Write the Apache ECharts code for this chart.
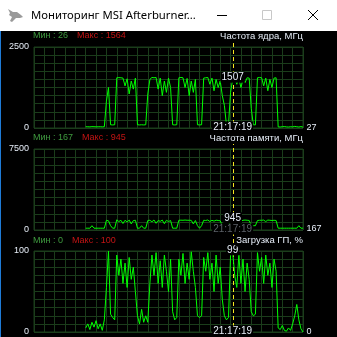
<!DOCTYPE html>
<html><head><meta charset="utf-8">
<script src="https://cdn.jsdelivr.net/npm/echarts@6/dist/echarts.min.js"></script>
<style>html,body{margin:0;padding:0;background:#000;overflow:hidden}#c{width:337px;height:337px}</style>
</head><body><div id="c"></div>
<script>
// ---- data ----
const windowTitle = 'Мониторинг MSI Afterburner...';
const panelTitles = ['Частота ядра, МГц', 'Частота памяти, МГц', 'Загрузка ГП, %'];
const minValues = [26, 167, 0];
const maxValues = [1564, 945, 100];
const axisMax = [2500, 7500, 100];
const sampleSlots = 130;      // history width in samples
const sampleStart = 25;       // first recorded sample slot
const cursorSample = 71;      // index in the data arrays under the cursor
const cursorTime = '21:17:19';

const coreClock = [
  40,38,35,42,40,36,38,40,35,40,
  830,1250,100,95,100,
  1550,1555,1550,1540,
  1300,1520,1050,1450,1200,
  1540,
  100,95,100,95,100,
  1050,1500,1560,1550,1560,
  1200,1540,1000,1450,1100,1540,1250,
  100,95,100,
  1550,1560,1550,
  1250,1530,1000,1450,1100,1500,
  100,95,100,
  1540,1550,1560,
  1350,1540,1150,1500,1250,1450,
  1000,700,100,110,
  1100,1507,1550,
  1350,1540,1250,1500,1400,1550,
  1540,
  600,100,95,
  1550,1560,1550,
  1300,1540,1150,1500,1250,1540,
  1550,
  35,30,40,45,35,30,40,35,50,40,30,45,27
];
const memClock = [
  167,167,167,400,167,167,167,167,167,167,
  900,850,400,167,167,
  945,780,900,600,900,750,920,560,870,900,
  167,167,400,167,167,
  880,900,760,930,620,880,800,920,580,900,780,880,
  167,167,167,
  900,910,900,920,900,900,890,560,880,
  400,167,400,
  900,880,930,780,900,820,910,880,850,
  400,400,167,400,
  880,945,900,
  910,900,820,900,920,900,880,
  400,400,400,
  880,900,900,920,780,920,900,880,900,880,
  167,167,167,167,167,167,167,167,167,167,400,167,167
];
const gpuLoad = [
  5,10,3,12,6,14,4,10,2,15,
  55,100,22,18,15,
  95,70,90,60,85,55,92,65,80,
  50,
  20,10,28,12,20,
  12,60,95,
  70,98,60,88,55,95,75,50,90,
  25,15,18,
  90,70,97,60,85,65,99,75,55,
  20,18,20,
  92,75,98,65,85,50,95,60,80,
  40,20,15,18,
  95,99,70,
  55,95,60,90,50,85,65,
  25,20,22,
  98,75,92,60,95,70,85,55,90,75,
  5,3,8,2,1,5,2,10,20,34,15,4,0
];

// ---- styling ----
const FONT = 'Liberation Sans';
const GRIDC = '#1b3d1b';
const LINE = '#00ff00';
const TXT = '#e6edf7';
const GREEN_T = '#3f9a3f';
const RED_T = '#c41414';
const timeColors = [TXT, '#5c6168', TXT];
const gridTops = [47, 149, 251];
const statY = [36, 138, 240.5];

const chart = echarts.init(document.getElementById('c'));
const panels = [coreClock, memClock, gpuLoad];
const grids = [], xAxes = [], yAxes = [], series = [];
panels.forEach((arr, k) => {
  const m = axisMax[k];
  grids.push({left: 34, width: 269, top: gridTops[k], height: 81, show: true,
    borderColor: GRIDC, borderWidth: 1, backgroundColor: 'transparent'});
  xAxes.push({type: 'value', gridIndex: k, min: 0, max: sampleSlots, interval: 5,
    axisLabel: {show: false}, axisTick: {show: false}, axisLine: {show: false},
    splitLine: {show: true, lineStyle: {color: GRIDC, width: 1}}});
  yAxes.push({type: 'value', gridIndex: k, min: 0, max: m, interval: m / 10,
    axisTick: {show: false}, axisLine: {show: false},
    splitLine: {show: true, lineStyle: {color: GRIDC, width: 1}},
    axisLabel: {color: TXT, fontSize: 9, fontFamily: FONT, margin: 5,
      formatter: v => (v === 0 || v === m) ? String(v) : ''}});
  const last = arr.length - 1;
  series.push({type: 'line', xAxisIndex: k, yAxisIndex: k,
    data: arr.map((v, i) => [sampleStart + i, v]),
    showSymbol: false, symbol: 'none', silent: true, animation: false,
    lineStyle: {color: LINE, width: 1},
    markPoint: {symbol: 'rect', symbolSize: 1, silent: true, animation: false,
      itemStyle: {color: 'rgba(0,0,0,0)'},
      data: [
        {coord: [sampleStart + cursorSample, arr[cursorSample]],
          label: {show: true, position: 'inside', offset: [0, -2], formatter: String(arr[cursorSample]),
            color: TXT, fontSize: 10, fontFamily: FONT, backgroundColor: '#000', padding: [1, 1, 0, 1]}},
        {coord: [sampleStart + cursorSample, 0],
          label: {show: true, position: 'inside', offset: [0, -1], formatter: cursorTime,
            color: timeColors[k], fontSize: 10, fontFamily: FONT, backgroundColor: '#000', padding: [1, 1, 0, 1]}},
        {coord: [sampleStart + last, arr[last]],
          label: {show: true, position: 'right', distance: 3, formatter: String(arr[last]),
            color: TXT, fontSize: 9, fontFamily: FONT}}
      ]}});
});

chart.setOption({
  backgroundColor: '#000',
  animation: false,
  grid: grids, xAxis: xAxes, yAxis: yAxes, series: series
});

// ---- window chrome and texts ----
const mctx = document.createElement('canvas').getContext('2d');
mctx.font = '9px "' + FONT + '"';
const els = [];
els.push({type: 'rect', shape: {x: 0, y: 0, width: 337, height: 31}, style: {fill: '#fff'}, z: 20});
els.push({type: 'rect', shape: {x: 0, y: 31, width: 1, height: 306}, style: {fill: '#1f7bd6'}, z: 20});
els.push({type: 'polygon', shape: {points: [[8,9],[13,12],[17,12],[21,15],[23,17],[20,18],[16,18],[12,22],[10,21],[12,17],[9,15],[10,13]]},
  style: {fill: '#9a9a9a'}, z: 21});
els.push({type: 'text', x: 31, y: 15.5, z: 21, style: {text: windowTitle, fill: '#000',
  font: '11.3px "Noto Sans"', textVerticalAlign: 'middle'}});
els.push({type: 'line', shape: {x1: 217, y1: 15.5, x2: 227, y2: 15.5}, style: {stroke: '#000', lineWidth: 1}, z: 21});
els.push({type: 'rect', shape: {x: 262.5, y: 10.5, width: 9, height: 9}, style: {fill: 'none', stroke: '#c8c8c8', lineWidth: 1}, z: 21});
els.push({type: 'line', shape: {x1: 308, y1: 10, x2: 318, y2: 20}, style: {stroke: '#000', lineWidth: 1}, z: 21});
els.push({type: 'line', shape: {x1: 318, y1: 10, x2: 308, y2: 20}, style: {stroke: '#000', lineWidth: 1}, z: 21});

panels.forEach((arr, k) => {
  const minText = 'Мин : ' + minValues[k];
  const maxText = 'Макс : ' + maxValues[k];
  const w = mctx.measureText(minText).width;
  els.push({type: 'text', x: 33, y: statY[k], z: 10, style: {text: minText, fill: GREEN_T,
    font: '9px "' + FONT + '"', textVerticalAlign: 'middle'}});
  els.push({type: 'text', x: 33 + w + 9, y: statY[k], z: 10, style: {text: maxText, fill: RED_T,
    font: '9px "' + FONT + '"', textVerticalAlign: 'middle'}});
  els.push({type: 'text', x: 304, y: statY[k], z: 10, style: {text: panelTitles[k], fill: TXT,
    font: '9.5px "' + FONT + '"', textAlign: 'right', textVerticalAlign: 'middle',
    backgroundColor: '#000', padding: [1, 1, 1, 1]}});
});

const cx = Math.round(chart.convertToPixel({xAxisIndex: 0}, sampleStart + cursorSample)) + 0.5;
els.push({type: 'line', shape: {x1: cx, y1: 43, x2: cx, y2: 337}, z: 1,
  style: {stroke: '#f4e620', lineWidth: 1, lineDash: [4, 3]}});

chart.setOption({graphic: {elements: els}});
</script>
</body></html>
